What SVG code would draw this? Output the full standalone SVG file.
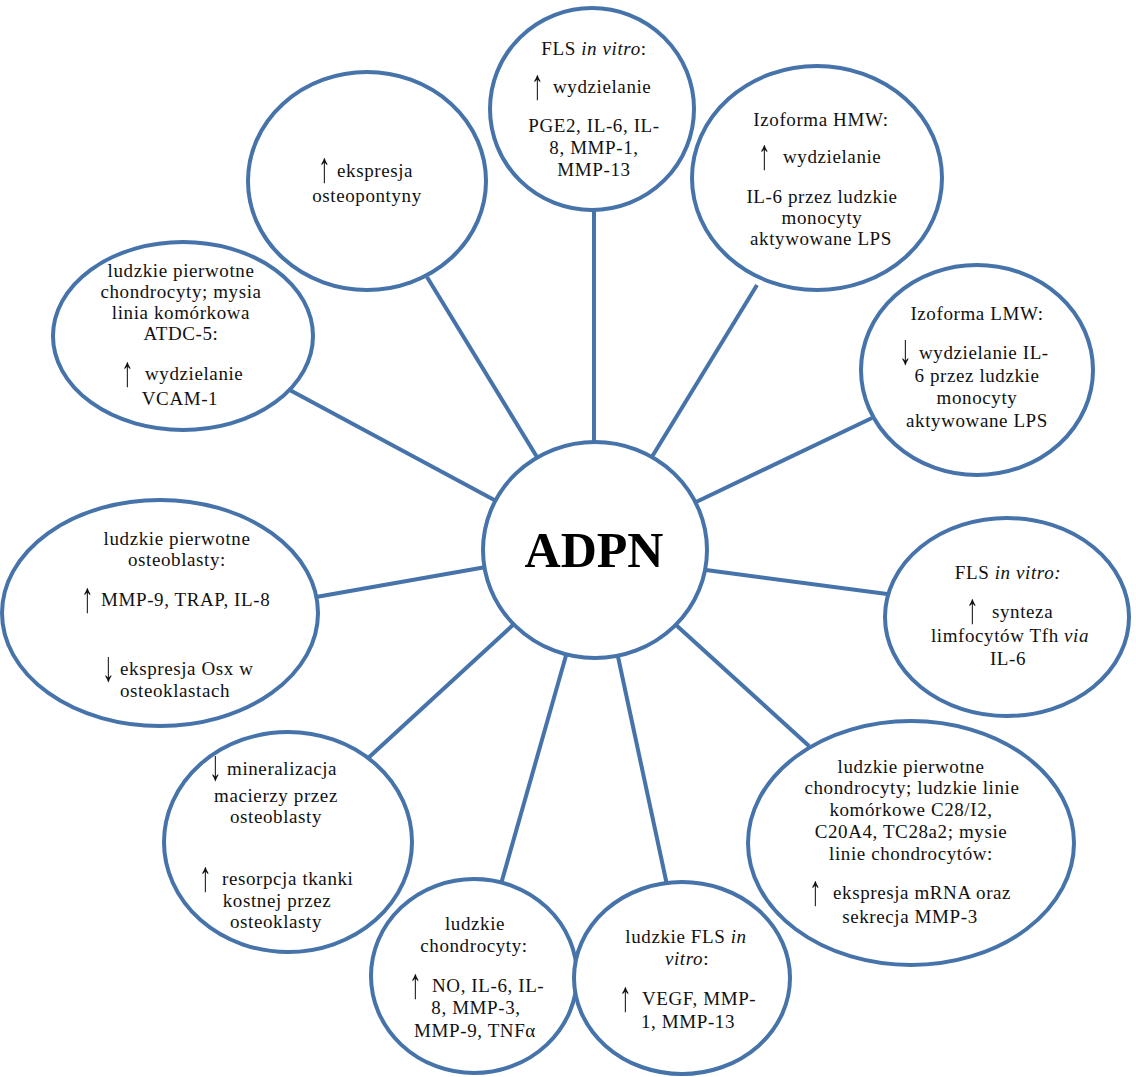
<svg xmlns="http://www.w3.org/2000/svg" width="1136" height="1077" viewBox="0 0 1136 1077">
  <defs>
    <!-- identity filter: rasterises the stretched arrow glyphs on their own surface -->
    <filter id="flat" x="-50%" y="-50%" width="200%" height="200%">
      <feOffset dx="0" dy="0"/>
    </filter>
  </defs>
  <style>
    .bub { fill: #ffffff; stroke: #4673a9; stroke-width: 4; }
    .link { stroke: #4673a9; stroke-width: 4; fill: none; }
    text { font-family: "Liberation Serif", "Times New Roman", "DejaVu Serif", serif; font-size: 19px; fill: #111111; letter-spacing: 0.6px; }
    .c { text-anchor: middle; }
    .arr { font-family: "Liberation Serif", "DejaVu Serif", serif; font-size: 25px; letter-spacing: 0; font-weight: normal; filter: url(#flat); }
    .it { font-style: italic; }
    .title { font-family: "Liberation Serif", "Times New Roman", serif; font-size: 50px; font-weight: bold; letter-spacing: 0; fill: #000000; }
  </style>
  <rect width="1136" height="1077" fill="#ffffff"/>

  <!-- spokes from the hub to each bubble -->
  <g id="connectors">
    <line class="link" x1="427" y1="277" x2="540" y2="462"/>
    <line class="link" x1="594" y1="208" x2="594" y2="445"/>
    <line class="link" x1="757" y1="285" x2="650" y2="460"/>
    <line class="link" x1="872" y1="418" x2="694" y2="503"/>
    <line class="link" x1="706" y1="570" x2="887" y2="594"/>
    <line class="link" x1="676" y1="625" x2="809" y2="746"/>
    <line class="link" x1="617" y1="652" x2="667" y2="885"/>
    <line class="link" x1="567" y1="652" x2="501" y2="884"/>
    <line class="link" x1="514" y1="624" x2="366" y2="760"/>
    <line class="link" x1="486" y1="567" x2="316" y2="597"/>
    <line class="link" x1="286" y1="388" x2="498" y2="502"/>
  </g>

  <g id="hub">
    <ellipse class="bub" cx="595" cy="550" rx="112" ry="108"/>
    <text class="title c" x="594" y="567">ADPN</text>
  </g>

  <!-- arrow glyphs are stretched tall from their baseline -->
  <g id="osteopontyna">
    <ellipse class="bub" cx="367" cy="181" rx="119" ry="109"/>
    <text class="arr" transform="translate(318,182) scale(1,1.7)">↑</text>
    <text x="337" y="177">ekspresja</text>
    <text class="c" x="367" y="202">osteopontyny</text>
  </g>

  <g id="fls-wydzielanie">
    <ellipse class="bub" cx="592" cy="109" rx="102" ry="101"/>
    <text class="c" x="594" y="55">FLS <tspan class="it">in vitro</tspan>:</text>
    <text class="arr" transform="translate(531,99) scale(1,1.7)">↑</text>
    <text x="553" y="93">wydzielanie</text>
    <text class="c" x="594" y="132">PGE2, IL-6, IL-</text>
    <text class="c" x="594" y="154">8, MMP-1,</text>
    <text class="c" x="594" y="176">MMP-13</text>
  </g>

  <g id="izoforma-hmw">
    <ellipse class="bub" cx="817" cy="178" rx="125" ry="112"/>
    <text class="c" x="821" y="126">Izoforma HMW:</text>
    <text class="arr" transform="translate(758,169) scale(1,1.7)">↑</text>
    <text x="783" y="163">wydzielanie</text>
    <text class="c" x="822" y="203">IL-6 przez ludzkie</text>
    <text class="c" x="822" y="224">monocyty</text>
    <text class="c" x="821" y="245">aktywowane LPS</text>
  </g>

  <g id="izoforma-lmw">
    <ellipse class="bub" cx="977" cy="370" rx="116" ry="105"/>
    <text class="c" x="977" y="320">Izoforma LMW:</text>
    <text class="arr" transform="translate(899,364) scale(1,1.7)">↓</text>
    <text x="919" y="359">wydzielanie IL-</text>
    <text class="c" x="977" y="382">6 przez ludzkie</text>
    <text class="c" x="977" y="404">monocyty</text>
    <text class="c" x="977" y="427">aktywowane LPS</text>
  </g>

  <g id="chondrocyty-atdc5">
    <ellipse class="bub" cx="183" cy="336" rx="130" ry="94"/>
    <text class="c" x="181" y="277">ludzkie pierwotne</text>
    <text class="c" x="181" y="298">chondrocyty; mysia</text>
    <text class="c" x="181" y="319">linia komórkowa</text>
    <text class="c" x="181" y="340">ATDC-5:</text>
    <text class="arr" transform="translate(121,386) scale(1,1.7)">↑</text>
    <text x="145" y="380">wydzielanie</text>
    <text class="c" x="180" y="405">VCAM-1</text>
  </g>

  <g id="osteoblasty">
    <ellipse class="bub" cx="160" cy="613" rx="158" ry="113"/>
    <text class="c" x="177" y="545">ludzkie pierwotne</text>
    <text class="c" x="177" y="566">osteoblasty:</text>
    <text class="arr" transform="translate(81,612) scale(1,1.7)">↑</text>
    <text x="101" y="606">MMP-9, TRAP, IL-8</text>
    <text class="arr" transform="translate(102,681) scale(1,1.7)">↓</text>
    <text x="120" y="675">ekspresja Osx w</text>
    <text x="120" y="697">osteoklastach</text>
  </g>

  <g id="fls-tfh">
    <ellipse class="bub" cx="1007" cy="617" rx="122" ry="99"/>
    <text class="c" x="1008" y="579">FLS <tspan class="it">in vitro:</tspan></text>
    <text class="arr" transform="translate(966,623) scale(1,1.7)">↑</text>
    <text x="992" y="618">synteza</text>
    <text class="c" x="1010" y="642">limfocytów Tfh <tspan class="it">via</tspan></text>
    <text class="c" x="1008" y="665">IL-6</text>
  </g>

  <g id="chondrocyty-mmp3">
    <ellipse class="bub" cx="911" cy="843" rx="163" ry="122"/>
    <text class="c" x="911" y="773">ludzkie pierwotne</text>
    <text class="c" x="912" y="794">chondrocyty; ludzkie linie</text>
    <text class="c" x="911" y="816">komórkowe C28/I2,</text>
    <text class="c" x="911" y="838">C20A4, TC28a2; mysie</text>
    <text class="c" x="911" y="860">linie chondrocytów:</text>
    <text class="arr" transform="translate(809,905) scale(1,1.7)">↑</text>
    <text x="833" y="899">ekspresja mRNA oraz</text>
    <text class="c" x="910" y="923">sekrecja MMP-3</text>
  </g>

  <g id="mineralizacja">
    <ellipse class="bub" cx="288" cy="842" rx="124" ry="110"/>
    <text class="arr" transform="translate(209,780) scale(1,1.7)">↓</text>
    <text x="227" y="775">mineralizacja</text>
    <text class="c" x="276" y="802">macierzy przez</text>
    <text class="c" x="276" y="823">osteoblasty</text>
    <text class="arr" transform="translate(199,891) scale(1,1.7)">↑</text>
    <text x="222" y="885">resorpcja tkanki</text>
    <text class="c" x="277" y="907">kostnej przez</text>
    <text class="c" x="276" y="928">osteoklasty</text>
  </g>

  <g id="ludzkie-chondrocyty">
    <ellipse class="bub" cx="474" cy="976" rx="103" ry="97"/>
    <text class="c" x="475" y="930">ludzkie</text>
    <text class="c" x="474" y="952">chondrocyty:</text>
    <text class="arr" transform="translate(409,998) scale(1,1.7)">↑</text>
    <text x="432" y="992">NO, IL-6, IL-</text>
    <text class="c" x="476" y="1014">8, MMP-3,</text>
    <text class="c" x="475" y="1037">MMP-9, TNFα</text>
  </g>

  <g id="ludzkie-fls">
    <ellipse class="bub" cx="682" cy="978" rx="108" ry="96"/>
    <text class="c" x="686" y="943">ludzkie FLS <tspan class="it">in</tspan></text>
    <text class="c" x="687" y="965"><tspan class="it">vitro</tspan>:</text>
    <text class="arr" transform="translate(619,1011) scale(1,1.7)">↑</text>
    <text x="642" y="1005">VEGF, MMP-</text>
    <text class="c" x="688" y="1028">1, MMP-13</text>
  </g>
</svg>
